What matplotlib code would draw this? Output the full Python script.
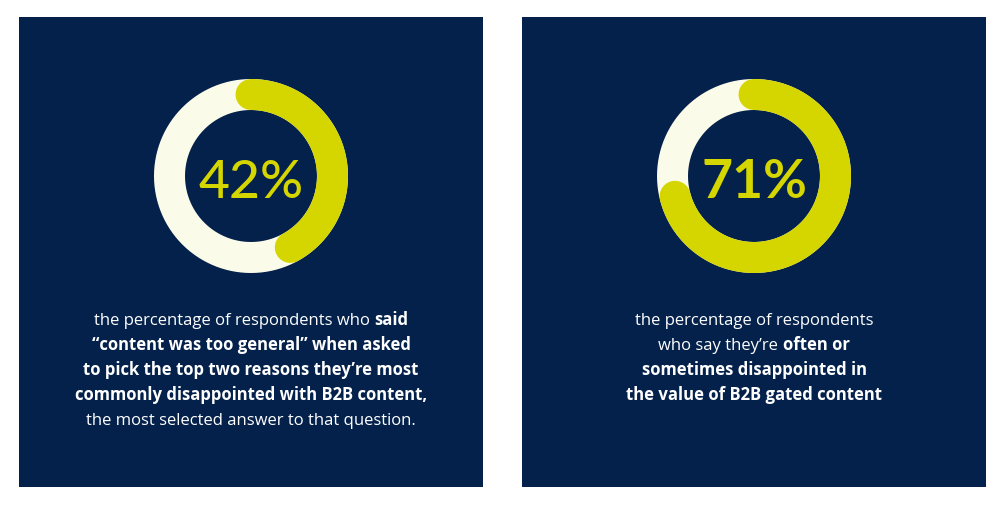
import matplotlib
matplotlib.use("Agg")
import matplotlib.pyplot as plt
import numpy as np
from matplotlib.patches import Rectangle

NAVY = "#03214a"
LIME = "#d5d500"
CREAM = "#fbfbea"
WHITE = "#ffffff"

# data
percent_values = [42, 71]
percent_labels = ["42%", "71%"]
percent_weights = ["medium", "bold"]

left_caption = [
    [("the percentage of respondents who ", "normal"), ("said", "bold")],
    [("\u201ccontent was too general\u201d when asked", "bold")],
    [("to pick the top two reasons they\u2019re most", "bold")],
    [("commonly disappointed with B2B content,", "bold")],
    [("the most selected answer to that question.", "normal")],
]
right_caption = [
    [("the percentage of respondents", "normal")],
    [("who say they\u2019re ", "normal"), ("often or", "bold")],
    [("sometimes disappointed in", "bold")],
    [("the value of B2B gated content", "bold")],
]
captions = [left_caption, right_caption]

# layout (pixels)
W, H = 1000, 510
panel_x = [19, 522]
panel_w = 464
panel_top, panel_bottom = 18, 488
donut_cy = 177
donut_box = 200
ring_r = 0.815         # mid radius as fraction of half box
ring_lw = 31 * 72 / 100
first_baseline = 325
line_step = 25
caption_size = 12
pct_size = 38.5
pct_baseline = 198

fig = plt.figure(figsize=(W / 100, H / 100), dpi=100)
fig.patch.set_facecolor(WHITE)
bg = fig.add_axes([0, 0, 1, 1])
bg.set_xlim(0, W)
bg.set_ylim(H, 0)
bg.axis("off")
renderer = fig.canvas.get_renderer()


def text_width(s, weight):
    # measure with a guard char so trailing spaces count
    t = bg.text(0, 0, s + "|", fontsize=caption_size, fontweight=weight, family="Open Sans")
    g = bg.text(0, 0, "|", fontsize=caption_size, fontweight=weight, family="Open Sans")
    w = t.get_window_extent(renderer).width - g.get_window_extent(renderer).width
    t.remove()
    g.remove()
    return w


def draw_line(cx, y, runs):
    widths = [text_width(s, w) for s, w in runs]
    x = cx - sum(widths) / 2
    for (s, w), wd in zip(runs, widths):
        bg.text(x, y, s, fontsize=caption_size, fontweight=w, family="Open Sans",
                color=WHITE, ha="left", va="baseline")
        x += wd


for i, v in enumerate(percent_values):
    px = panel_x[i]
    cx = px + panel_w / 2
    bg.add_patch(Rectangle((px, panel_top), panel_w, panel_bottom - panel_top,
                           facecolor=NAVY, edgecolor="none"))

    pax = fig.add_axes([(cx - donut_box / 2) / W, 1 - (donut_cy + donut_box / 2) / H,
                        donut_box / W, donut_box / H], projection="polar")
    pax.set_theta_offset(np.pi / 2)
    pax.set_theta_direction(-1)
    pax.set_ylim(0, 1)
    pax.axis("off")
    full = np.linspace(0, 2 * np.pi, 361)
    pax.plot(full, np.full_like(full, ring_r), color=CREAM, lw=ring_lw,
             solid_capstyle="butt")
    arc = np.linspace(0, 2 * np.pi * v / 100, 300)
    pax.plot(arc, np.full_like(arc, ring_r), color=LIME, lw=ring_lw,
             solid_capstyle="round")

    bg.text(cx, pct_baseline, percent_labels[i], fontsize=pct_size,
            fontweight=percent_weights[i], family="Lato", color=LIME,
            ha="center", va="baseline", zorder=5)

    for k, runs in enumerate(captions[i]):
        draw_line(cx, first_baseline + k * line_step, runs)

fig.savefig("out.png", dpi=100, facecolor=WHITE)
